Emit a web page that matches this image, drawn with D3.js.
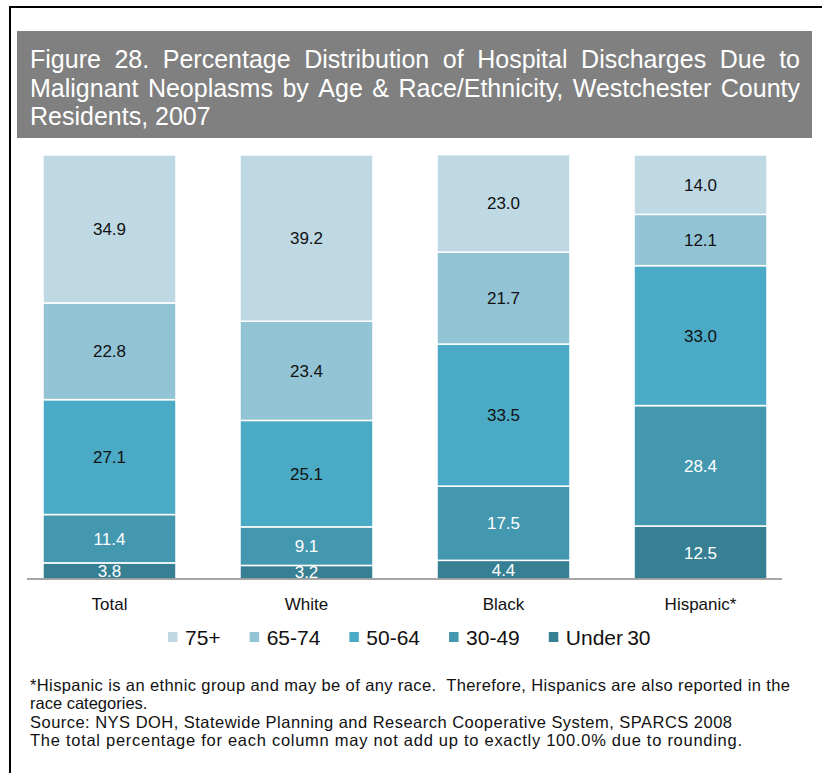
<!DOCTYPE html>
<html>
<head>
<meta charset="utf-8">
<script src="https://cdn.jsdelivr.net/npm/d3@7"></script>
<style>
  html, body { margin: 0; padding: 0; background: #fff; }
  svg { display: block; }
</style>
</head>
<body>
<svg id="chart" width="822" height="773"></svg>
<script>
// ---- Data ----
const categories = ["Total", "White", "Black", "Hispanic*"];
const ageGroups = ["Under 30", "30-49", "50-64", "65-74", "75+"];
const under30 = [3.8, 3.2, 4.4, 12.5];
const age30to49 = [11.4, 9.1, 17.5, 28.4];
const age50to64 = [27.1, 25.1, 33.5, 33.0];
const age65to74 = [22.8, 23.4, 21.7, 12.1];
const age75plus = [34.9, 39.2, 23.0, 14.0];
const legendOrder = ["75+", "65-74", "50-64", "30-49", "Under 30"];
const titleLines = [
  "Figure 28. Percentage Distribution of Hospital Discharges Due to",
  "Malignant Neoplasms by Age & Race/Ethnicity, Westchester County",
  "Residents, 2007"
];
const footnotes = [
  "*Hispanic is an ethnic group and may be of any race.  Therefore, Hispanics are also reported in the",
  "race categories.",
  "Source: NYS DOH, Statewide Planning and Research Cooperative System, SPARCS 2008",
  "The total percentage for each column may not add up to exactly 100.0% due to rounding."
];

const seriesValues = {
  "Under 30": under30, "30-49": age30to49, "50-64": age50to64,
  "65-74": age65to74, "75+": age75plus
};
const colors = {
  "75+": "#bed9e4", "65-74": "#93c4d5", "50-64": "#4babc6",
  "30-49": "#4398af", "Under 30": "#377f93"
};
const labelColor = {
  "75+": "#111", "65-74": "#111", "50-64": "#111",
  "30-49": "#fff", "Under 30": "#fff"
};

const table = categories.map((c, i) => {
  const row = { category: c };
  ageGroups.forEach(g => row[g] = seriesValues[g][i]);
  return row;
});

const svg = d3.select("#chart");
const sans = "'Liberation Sans', Arial, sans-serif";

// Frame
svg.append("line").attr("x1", 9).attr("x2", 822).attr("y1", 7).attr("y2", 7)
  .attr("stroke", "#000").attr("stroke-width", 2);
svg.append("line").attr("x1", 10).attr("x2", 10).attr("y1", 6).attr("y2", 773)
  .attr("stroke", "#000").attr("stroke-width", 2);

// Title box
svg.append("rect").attr("x", 17).attr("y", 31).attr("width", 795).attr("height", 107)
  .attr("fill", "#808080");

function justifyLine(g, text, x0, x1, y, size, family, fill, justify) {
  if (!justify) {
    g.append("text").attr("x", x0).attr("y", y).attr("font-family", family)
      .attr("font-size", size).attr("fill", fill).text(text);
    return;
  }
  const words = text.split(" ");
  const nodes = words.map(w => g.append("text").attr("y", y).attr("font-family", family)
    .attr("font-size", size).attr("fill", fill).text(w));
  const widths = nodes.map(n => n.node().getComputedTextLength());
  const gap = (x1 - x0 - d3.sum(widths)) / (words.length - 1);
  let x = x0;
  nodes.forEach((n, i) => { n.attr("x", x); x += widths[i] + gap; });
}

const titleG = svg.append("g");
const titleBaselines = [68, 96.5, 125];
titleLines.forEach((t, i) => justifyLine(titleG, t, 30, 800, titleBaselines[i], 25, sans, "#fff", i < 2));

// Scales
const x = d3.scaleBand().domain(categories).range([11, 799])
  .paddingInner(0.325).paddingOuter(0.1624);
const y = d3.scaleLinear().domain([0, 100]).range([579, 155]);

const layers = d3.stack().keys(ageGroups)(table);

const barsG = svg.append("g");
layers.forEach(layer => {
  const key = layer.key;
  const g = barsG.append("g");
  g.selectAll("rect").data(layer).join("rect")
    .attr("x", d => x(d.data.category))
    .attr("width", x.bandwidth())
    .attr("y", d => y(d[1]))
    .attr("height", d => y(d[0]) - y(d[1]))
    .attr("fill", colors[key])
    .attr("stroke", "#fff").attr("stroke-width", 1.5);
  g.selectAll("text").data(layer).join("text")
    .attr("x", d => x(d.data.category) + x.bandwidth() / 2)
    .attr("y", d => (y(d[0]) + y(d[1])) / 2)
    .attr("dy", "0.36em")
    .attr("text-anchor", "middle")
    .attr("font-family", sans).attr("font-size", 17)
    .attr("fill", labelColor[key])
    .text(d => d3.format(".1f")(d[1] - d[0]));
});

// Axis
const axisG = svg.append("g").attr("transform", "translate(0,579)")
  .call(d3.axisBottom(x).tickSize(0).tickPadding(18));
axisG.select(".domain").remove();
axisG.append("line").attr("x1", 27).attr("x2", 782).attr("y1", 0).attr("y2", 0)
  .attr("stroke", "#888").attr("stroke-width", 1.5);
axisG.selectAll(".tick text").attr("font-family", sans).attr("font-size", 17)
  .attr("fill", "#111").attr("dy", "0.75em");

// Legend
const legG = svg.append("g");
let lx = 168;
legendOrder.forEach(k => {
  legG.append("rect").attr("x", lx).attr("y", 632).attr("width", 9.5).attr("height", 10)
    .attr("fill", colors[k]);
  const t = legG.append("text").attr("x", lx + 17).attr("y", 645)
    .attr("font-family", sans).attr("font-size", 21).attr("fill", "#111")
    .text(k === "Under 30" ? "Under\u200930" : k);
  lx += 17 + t.node().getComputedTextLength() + 29;
});

// Footnotes (reference lines are set slightly wider than plain Arial)
const footG = svg.append("g");
const footBaselines = [690.5, 709, 727.5, 746];
const footEnds = [790, null, 732, 742];
footnotes.forEach((t, i) => {
  const tx = footG.append("text").attr("x", 30).attr("y", footBaselines[i])
    .attr("font-family", sans).attr("font-size", 16.5).attr("fill", "#111")
    .style("white-space", "pre").text(t);
  if (footEnds[i]) tx.attr("textLength", footEnds[i] - 30).attr("lengthAdjust", "spacing");
});
</script>
</body>
</html>
